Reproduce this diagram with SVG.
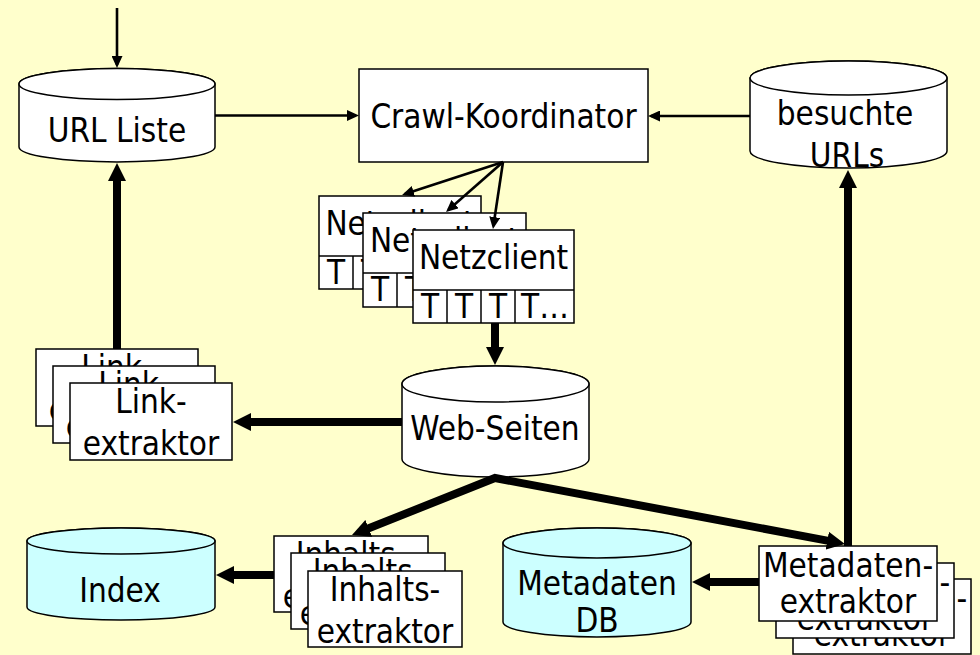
<svg xmlns="http://www.w3.org/2000/svg" width="980" height="655" viewBox="0 0 980 655">
<style>
text{font-family:'DejaVu Sans Condensed','DejaVu Sans',sans-serif;font-stretch:condensed;font-size:33px;fill:#000;text-anchor:middle}
.box{fill:#fff;stroke:#000;stroke-width:1.5}
.cyl{fill:#fff;stroke:#000;stroke-width:1.5}
.cyan{fill:#ccffff}
.thin{fill:none;stroke:#000;stroke-width:2.6}
.thick{fill:none;stroke:#000;stroke-width:8;stroke-linejoin:miter}
.div{stroke:#000;stroke-width:1.5}
</style>
<defs>
<marker id="ah" markerUnits="userSpaceOnUse" markerWidth="12" markerHeight="11" viewBox="0 0 12 11" refX="9" refY="5.5" orient="auto-start-reverse"><path d="M0,0 L12,5.5 L0,11 z" fill="#000"/></marker>
<marker id="AH" markerUnits="userSpaceOnUse" markerWidth="18" markerHeight="18" viewBox="0 0 18 18" refX="4" refY="9" orient="auto-start-reverse"><path d="M0,0 L18,9 L0,18 z" fill="#000"/></marker>
</defs>
<rect x="0" y="0" width="980" height="655" fill="#ffffcc"/>

<g id="url-liste">
<path class="cyl" d="M19,84 L19,147 A98,15 0 0 0 215,147 L215,84 A98,15.5 0 0 0 19,84 Z"/>
<ellipse class="cyl" cx="117" cy="84" rx="98" ry="15.5"/>
<text x="117" y="142">URL Liste</text>
</g>

<g id="crawl-koordinator">
<rect class="box" x="359" y="69" width="289" height="93"/>
<text x="503.5" y="128">Crawl-Koordinator</text>
</g>

<g id="besuchte-urls">
<path class="cyl" d="M750,78 L750,151 A98.5,17 0 0 0 947,151 L947,78 A98.5,17 0 0 0 750,78 Z"/>
<ellipse class="cyl" cx="848.5" cy="78" rx="98.5" ry="17"/>
<text x="845" y="125">besuchte</text>
<text x="847" y="167">URLs</text>
</g>

<g id="netzclient-1">
<rect class="box" x="319" y="196" width="162" height="93"/>
<text x="400" y="235">Netzclient</text>
<line class="div" x1="319" y1="256" x2="481" y2="256"/>
<line class="div" x1="353" y1="256" x2="353" y2="289"/>
<line class="div" x1="387" y1="256" x2="387" y2="289"/>
<line class="div" x1="421" y1="256" x2="421" y2="289"/>
<text x="336" y="284">T</text><text x="370" y="284">T</text><text x="404" y="284">T</text><text x="451" y="284">T…</text>
</g>
<g id="netzclient-2">
<rect class="box" x="363" y="213" width="163" height="94"/>
<text x="444.5" y="252">Netzclient</text>
<line class="div" x1="363" y1="273" x2="526" y2="273"/>
<line class="div" x1="397" y1="273" x2="397" y2="307"/>
<line class="div" x1="431" y1="273" x2="431" y2="307"/>
<line class="div" x1="465" y1="273" x2="465" y2="307"/>
<text x="380" y="301">T</text><text x="414" y="301">T</text><text x="448" y="301">T</text><text x="495" y="301">T…</text>
</g>
<g id="netzclient-3">
<rect class="box" x="413" y="230" width="161" height="93"/>
<text x="493.5" y="269">Netzclient</text>
<line class="div" x1="413" y1="290" x2="574" y2="290"/>
<line class="div" x1="447" y1="290" x2="447" y2="323"/>
<line class="div" x1="481" y1="290" x2="481" y2="323"/>
<line class="div" x1="515" y1="290" x2="515" y2="323"/>
<text x="430" y="318">T</text><text x="464" y="318">T</text><text x="498" y="318">T</text><text x="545" y="318">T…</text>
</g>

<g id="web-seiten">
<path class="cyl" d="M402,384 L402,459 A93.5,18 0 0 0 589,459 L589,384 A93.5,18 0 0 0 402,384 Z"/>
<ellipse class="cyl" cx="495.5" cy="384" rx="93.5" ry="18"/>
<text x="495" y="440">Web-Seiten</text>
</g>

<g id="linkextraktor-1">
<rect class="box" x="36" y="349" width="162" height="77"/>
<text x="117" y="379">Link-</text><text x="117" y="421">extraktor</text>
</g>
<g id="linkextraktor-2">
<rect class="box" x="53" y="366" width="162" height="77"/>
<text x="134" y="396">Link-</text><text x="134" y="438">extraktor</text>
</g>
<g id="linkextraktor-3">
<rect class="box" x="70" y="383" width="162" height="77"/>
<text x="151" y="413">Link-</text><text x="151" y="455">extraktor</text>
</g>

<g id="index">
<path class="cyl cyan" d="M27,541 L27,607 A94,13 0 0 0 215,607 L215,541 A94,13 0 0 0 27,541 Z"/>
<ellipse class="cyl cyan" cx="121" cy="541" rx="94" ry="13"/>
<text x="120" y="602">Index</text>
</g>

<g id="inhaltsextraktor-1">
<rect class="box" x="274" y="536" width="154" height="76"/>
<text x="351" y="566">Inhalts-</text><text x="351" y="608">extraktor</text>
</g>
<g id="inhaltsextraktor-2">
<rect class="box" x="291" y="553" width="154" height="76"/>
<text x="368" y="583">Inhalts-</text><text x="368" y="625">extraktor</text>
</g>
<g id="inhaltsextraktor-3">
<rect class="box" x="308" y="571" width="154" height="76"/>
<text x="385" y="601">Inhalts-</text><text x="385" y="643">extraktor</text>
</g>

<g id="metadaten-db">
<path class="cyl cyan" d="M503,543 L503,622 A94,15 0 0 0 691,622 L691,543 A94,15 0 0 0 503,543 Z"/>
<ellipse class="cyl cyan" cx="597" cy="543" rx="94" ry="15"/>
<text x="597" y="595">Metadaten</text>
<text x="597" y="632">DB</text>
</g>

<g id="metadatenextraktor-3">
<rect class="box" x="793" y="579" width="178" height="75"/>
<text x="882" y="610">Metadaten-</text><text x="882" y="646">extraktor</text>
</g>
<g id="metadatenextraktor-2">
<rect class="box" x="776" y="563" width="178" height="75"/>
<text x="865" y="594">Metadaten-</text><text x="865" y="630">extraktor</text>
</g>
<g id="metadatenextraktor-1">
<rect class="box" x="759" y="546" width="178" height="75"/>
<text x="848" y="577">Metadaten-</text><text x="848" y="613">extraktor</text>
</g>

<g id="connectors">
<path class="thin" d="M117,8 L117,65" marker-end="url(#ah)"/>
<path class="thin" d="M215,115.5 L356,115.5" marker-end="url(#ah)"/>
<path class="thin" d="M750,116 L651,116" marker-end="url(#ah)"/>
<path class="thin" d="M503,162 L404.9,194.1" marker-end="url(#ah)"/>
<path class="thin" d="M503,162 L448.3,210" marker-end="url(#ah)"/>
<path class="thin" d="M503,162 L493.4,226" marker-end="url(#ah)"/>
<path class="thick" d="M495,323 L495,351" marker-end="url(#AH)"/>
<path class="thick" d="M402,422 L247,422" marker-end="url(#AH)"/>
<path class="thick" d="M117,349 L117,177" marker-end="url(#AH)"/>
<path class="thick" d="M365,529.8 L495,478 L831.2,541.4" marker-start="url(#AH)" marker-end="url(#AH)"/>
<path class="thick" d="M274,575 L230,575" marker-end="url(#AH)"/>
<path class="thick" d="M759,582 L706,582" marker-end="url(#AH)"/>
<path class="thick" d="M848,546 L848,184" marker-end="url(#AH)"/>
</g>
</svg>
